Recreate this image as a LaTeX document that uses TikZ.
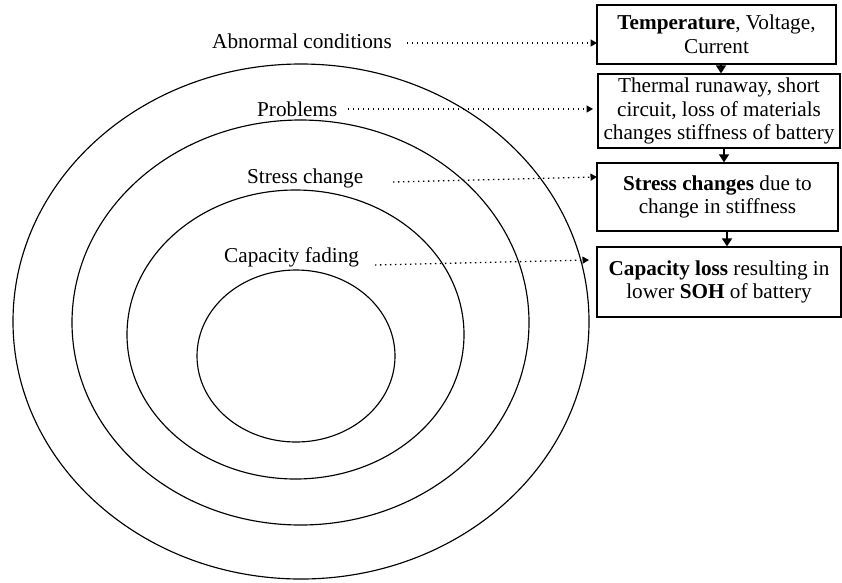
\documentclass[tikz,border=0pt]{standalone}
\usepackage{fontspec}
\setmainfont{Liberation Serif}
\usetikzlibrary{arrows.meta}
\begin{document}
\begin{tikzpicture}[x=1pt,y=-1pt,
  ring/.style={line width=1.15pt},
  boxnode/.style={draw,line width=1.3pt,inner sep=0pt,align=center,font=\fontsize{21.2}{23.8}\selectfont},
  lbl/.style={anchor=base west,inner sep=0pt,font=\fontsize{21.2}{24}\selectfont},
  dotarrow/.style={line width=1.3pt,dash pattern=on 1.4pt off 3.6pt,-{Triangle[length=6.5pt,width=7pt]}},
  flowarrow/.style={line width=1.7pt,-{Triangle[length=8pt,width=10pt]}}]
\useasboundingbox (0,0) rectangle (842,582);

% rings
\draw[ring] (301,321.5) ellipse (288 and 257.5);
\draw[ring] (300.5,322.5) ellipse (228.5 and 202.5);
\draw[ring] (295.5,334.5) ellipse (168.5 and 144.5);
\draw[ring] (296,356) ellipse (99 and 86);

% labels
\node[lbl] (l1) at (212,48) {Abnormal conditions};
\node[lbl] (l2) at (257,116) {Problems};
\node[lbl] (l3) at (247,183) {Stress change};
\node[lbl] (l4) at (224,262.5) {Capacity fading};

% boxes
\node[boxnode,minimum width=239pt,minimum height=59pt] (b1) at (716.5,34.5)
  {\textbf{Temperature}, Voltage,\\Current};
\node[boxnode,minimum width=242pt,minimum height=74pt] (b2) at (719,111)
  {Thermal runaway, short\\circuit, loss of materials\\changes stiffness of battery};
\node[boxnode,minimum width=241pt,minimum height=68pt] (b3) at (717.5,197)
  {\textbf{Stress changes} due to\\change in stiffness};
\node[boxnode,minimum width=244pt,minimum height=70pt] (b4) at (719,282)
  {\textbf{Capacity loss} resulting in\\lower \textbf{SOH} of battery};

% flow arrows
\draw[flowarrow] ([xshift=4.5pt]b1.south) -- ([xshift=4.5pt]b1.south |- b2.north);
\draw[flowarrow] ([xshift=5pt]b2.south) -- ([xshift=5pt]b2.south |- b3.north);
\draw[flowarrow] ([xshift=9.5pt]b3.south) -- ([xshift=9.5pt]b3.south |- b4.north);

% dotted arrows
\coordinate (s1) at (407,43);  \coordinate (e1) at (597,43);
\coordinate (s2) at (348,109); \coordinate (e2) at (593,109);
\coordinate (s3) at (393,182); \coordinate (e3) at (597,177);
\coordinate (s4) at (375,265); \coordinate (e4) at (589,260);
\draw[dotarrow] (s1) -- (e1);
\draw[dotarrow] (s2) -- (e2);
\draw[dotarrow] (s3) -- (e3);
\draw[dotarrow] (s4) -- (e4);
\end{tikzpicture}
\end{document}
